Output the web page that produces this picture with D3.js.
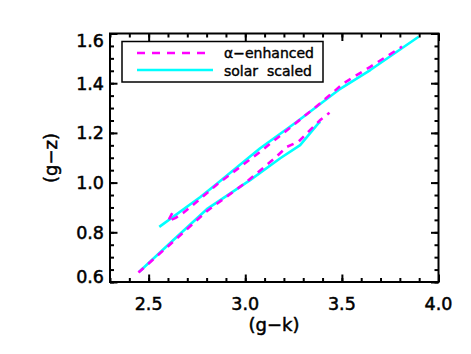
<!DOCTYPE html>
<html>
<head>
<meta charset="utf-8">
<script src="https://cdn.jsdelivr.net/npm/d3@7"></script>
<style>
  body { margin: 0; background: #fff; }
  text { font-family: "DejaVu Sans", sans-serif; fill: #000; }
</style>
</head>
<body>
<div class="chart"></div>
<script>
// (g-k), (g-z) pairs
var alphaUpper = [[2.622, 0.877], [2.600, 0.845], [2.640, 0.858], [2.680, 0.879], [2.740, 0.917],
    [2.861, 0.997], [3.077, 1.124], [3.250, 1.232], [3.388, 1.319], [3.509, 1.400],
    [3.647, 1.466], [3.811, 1.547]];
var alphaLower = [[2.447, 0.638], [2.628, 0.763], [2.801, 0.885], [2.999, 0.998], [3.155, 1.100],
    [3.216, 1.144], [3.276, 1.165], [3.327, 1.205], [3.388, 1.252], [3.436, 1.281]];
var solarUpper = [[2.555, 0.822], [2.766, 0.941], [2.853, 0.995], [3.077, 1.138], [3.267, 1.245],
    [3.483, 1.373], [3.647, 1.453], [3.897, 1.587]];
var solarLower = [[2.450, 0.640], [2.628, 0.769], [2.801, 0.893], [3.025, 1.010], [3.181, 1.098],
    [3.284, 1.151], [3.379, 1.239], [3.388, 1.245]];

var xMajor = [2.5, 3.0, 3.5, 4.0];
var yMajor = [0.6, 0.8, 1.0, 1.2, 1.4, 1.6];
var xMinor = d3.range(23, 41).map(function(d) { return d / 10; });
var yMinor = d3.range(12, 33).map(function(d) { return d / 20; });
var legendLabels = ["\u03b1\u2212enhanced", "solar  scaled"];

var W = 471, H = 354;
var pL = 110, pR = 438.5, pT = 33.5, pB = 282;

var svg = d3.select(".chart").append("svg")
    .attr("width", W)
    .attr("height", H);

var x = d3.scaleLinear().domain([2.3, 4.0]).range([pL, pR]);
var y = d3.scaleLinear().domain([0.6, 1.6]).range([pB, pT]);

var line = d3.line()
    .x(function(d) { return x(d[0]); })
    .y(function(d) { return y(d[1]); });

// data lines
var g = svg.append("g");
[solarUpper, solarLower].forEach(function(s) {
  g.append("path").attr("d", line(s))
    .attr("fill", "none").attr("stroke", "#00ffff").attr("stroke-width", 2.6)
    .attr("stroke-linejoin", "round");
});
[alphaUpper, alphaLower].forEach(function(s) {
  g.append("path").attr("d", line(s))
    .attr("fill", "none").attr("stroke", "#ff00ff").attr("stroke-width", 2.6)
    .attr("stroke-dasharray", "7,6");
});

// ticks, inward on all four sides
function ticks(axis, vals, size) {
  return axis.tickValues(vals).tickSize(-size).tickFormat("");
}
var axes = [
  [d3.axisBottom(x), xMinor, 4, "translate(0," + pB + ")"],
  [d3.axisBottom(x), xMajor, 7.5, "translate(0," + pB + ")"],
  [d3.axisTop(x), xMinor, 4, "translate(0," + pT + ")"],
  [d3.axisTop(x), xMajor, 7.5, "translate(0," + pT + ")"],
  [d3.axisLeft(y), yMinor, 4, "translate(" + pL + ",0)"],
  [d3.axisLeft(y), yMajor, 7.5, "translate(" + pL + ",0)"],
  [d3.axisRight(y), yMinor, 4, "translate(" + pR + ",0)"],
  [d3.axisRight(y), yMajor, 7.5, "translate(" + pR + ",0)"]
];
axes.forEach(function(a) {
  var ax = svg.append("g").attr("transform", a[3]).call(ticks(a[0], a[1], a[2]));
  ax.select(".domain").remove();
  ax.selectAll("line").attr("stroke", "#000").attr("stroke-width", 2);
});

svg.append("rect")
    .attr("x", pL).attr("y", pT)
    .attr("width", pR - pL).attr("height", pB - pT)
    .attr("fill", "none").attr("stroke", "#000").attr("stroke-width", 2);

// tick labels
svg.selectAll(".xl").data(xMajor).enter().append("text")
    .attr("x", function(d) { return x(d); })
    .attr("y", 310)
    .attr("text-anchor", "middle")
    .style("font-size", "17.5px")
    .style("stroke", "#000").style("stroke-width", 0.5)
    .text(function(d) { return d.toFixed(1); });

svg.selectAll(".yl").data(yMajor).enter().append("text")
    .attr("x", 104)
    .attr("y", function(d) {
      if (d === 0.6) return pB + 0.5;
      if (d === 1.6) return pT + 13;
      return y(d) + 6.5;
    })
    .attr("text-anchor", "end")
    .style("font-size", "17.5px")
    .style("stroke", "#000").style("stroke-width", 0.5)
    .text(function(d) { return d.toFixed(1); });

// axis titles
svg.append("text")
    .attr("x", 274).attr("y", 331)
    .attr("text-anchor", "middle")
    .style("font-size", "18px")
    .style("stroke", "#000").style("stroke-width", 0.5)
    .text("(g\u2212k)");

svg.append("text")
    .attr("transform", "translate(57,158) rotate(-90)")
    .attr("text-anchor", "middle")
    .style("font-size", "18px")
    .style("stroke", "#000").style("stroke-width", 0.5)
    .text("(g\u2212z)");

// legend
var lg = svg.append("g");
lg.append("rect")
    .attr("x", 122).attr("y", 41.5).attr("width", 201).attr("height", 40.5)
    .attr("fill", "#fff").attr("stroke", "#000").attr("stroke-width", 1.5);
lg.append("line")
    .attr("x1", 137).attr("x2", 209).attr("y1", 53).attr("y2", 53)
    .attr("stroke", "#ff00ff").attr("stroke-width", 2.6).attr("stroke-dasharray", "8,7");
lg.append("line")
    .attr("x1", 137).attr("x2", 213).attr("y1", 70).attr("y2", 70)
    .attr("stroke", "#00ffff").attr("stroke-width", 2.6);
lg.selectAll("text").data(legendLabels).enter().append("text")
    .attr("x", 224)
    .attr("y", function(d, i) { return i === 0 ? 58.3 : 75.5; })
    .style("font-size", "14px")
    .style("stroke", "#000").style("stroke-width", 0.4)
    .style("white-space", "pre")
    .text(function(d) { return d; });
</script>
</body>
</html>
